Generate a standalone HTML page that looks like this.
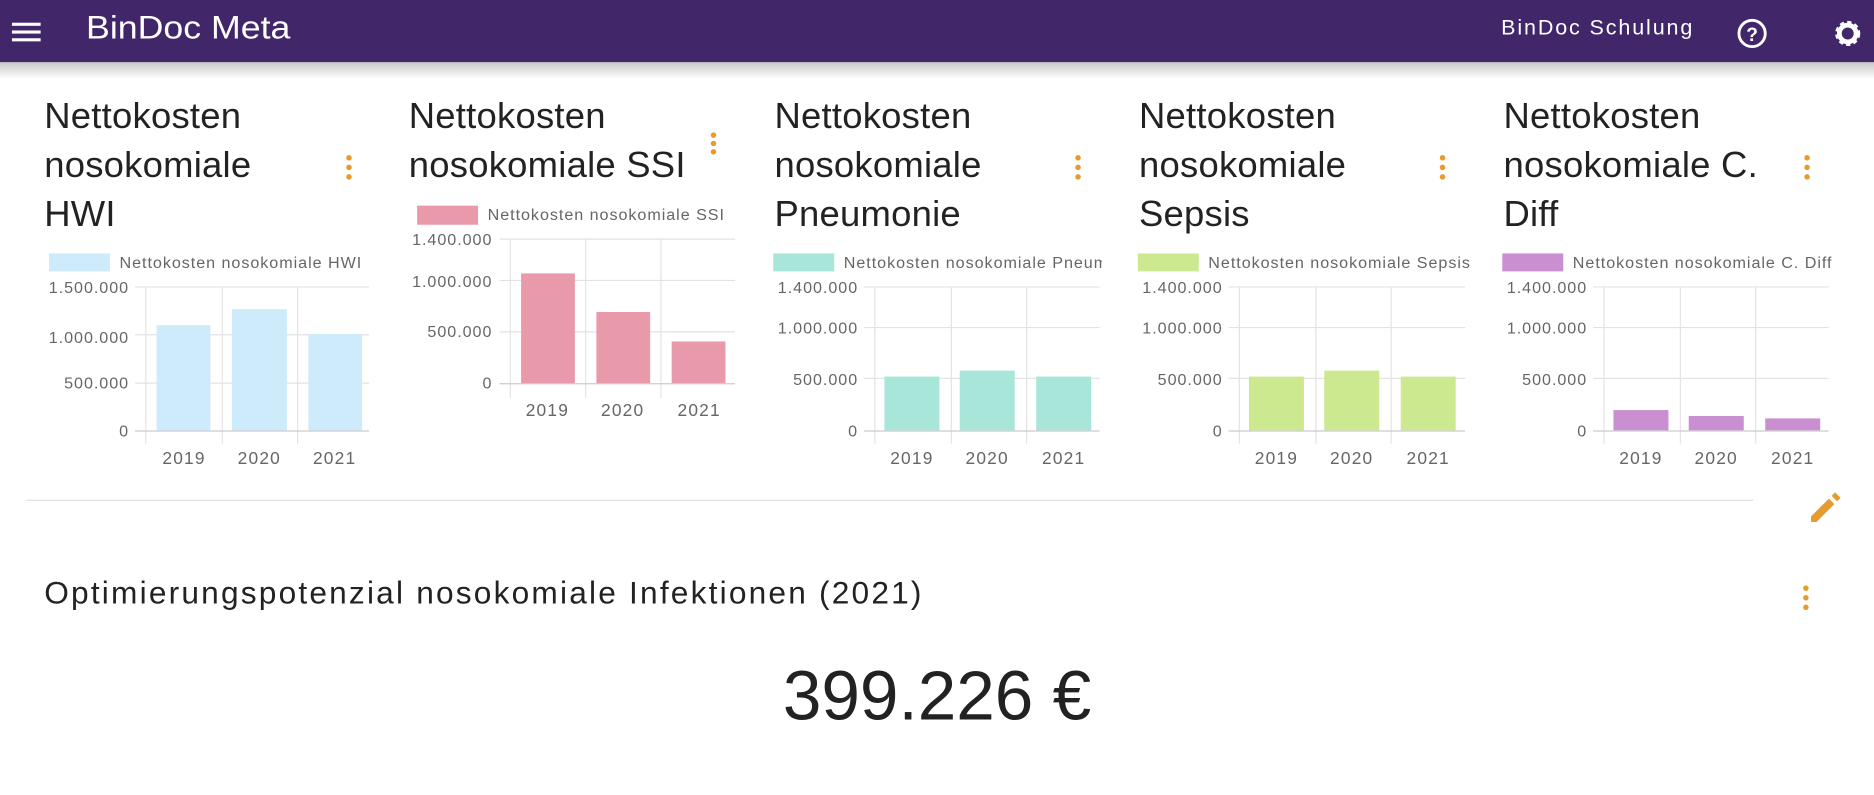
<!DOCTYPE html>
<html><head><style>
html,body{margin:0;padding:0;background:#fff;overflow:hidden}
svg{display:block}
text{font-family:"Liberation Sans",sans-serif}
</style></head><body>
<svg width="1874" height="795" viewBox="0 0 1568 665" preserveAspectRatio="none" xmlns="http://www.w3.org/2000/svg">
<defs>
<linearGradient id="sh" x1="0" y1="0" x2="0" y2="1"><stop offset="0" stop-color="#000" stop-opacity="0.22"/><stop offset="1" stop-color="#000" stop-opacity="0"/></linearGradient>
<clipPath id="c3"><rect x="640" y="200" width="282" height="40"/></clipPath>
</defs>
<rect width="1568" height="665" fill="#fff"/>
<rect y="52" width="1568" height="14" fill="url(#sh)"/>
<rect width="1568" height="52" fill="#42266a"/>
<g fill="#fff"><rect x="10" y="19" width="24" height="2.6"/><rect x="10" y="25.5" width="24" height="2.6"/><rect x="10" y="32" width="24" height="2.6"/></g>
<text x="72" y="32" font-size="27" fill="#fff" textLength="171" lengthAdjust="spacingAndGlyphs">BinDoc Meta</text>
<text x="1256" y="29" font-size="18" fill="#fff" textLength="160">BinDoc Schulung</text>
<circle cx="1466" cy="28" r="11" fill="none" stroke="#fff" stroke-width="2.4"/>
<text x="1466" y="34.5" font-size="16" font-weight="bold" fill="#fff" text-anchor="middle">?</text>
<circle cx="1546" cy="28" r="8" fill="none" stroke="#fff" stroke-width="5" stroke-dasharray="3 2.3"/>
<circle cx="1546" cy="28" r="7" fill="none" stroke="#fff" stroke-width="4"/>

<g font-size="30.5" fill="#222" letter-spacing="0.2">
<text x="37" y="107">Nettokosten</text><text x="37" y="148">nosokomiale</text><text x="37" y="189">HWI</text>
<text x="342" y="107">Nettokosten</text><text x="342" y="148">nosokomiale SSI</text>
<text x="648" y="107">Nettokosten</text><text x="648" y="148">nosokomiale</text><text x="648" y="189">Pneumonie</text>
<text x="953" y="107">Nettokosten</text><text x="953" y="148">nosokomiale</text><text x="953" y="189">Sepsis</text>
<text x="1258" y="107">Nettokosten</text><text x="1258" y="148">nosokomiale C.</text><text x="1258" y="189">Diff</text>
</g>
<g fill="#e69b2c">
<circle cx="292" cy="132" r="2.3"/><circle cx="292" cy="140" r="2.3"/><circle cx="292" cy="148" r="2.3"/>
<circle cx="597" cy="113" r="2.3"/><circle cx="597" cy="120" r="2.3"/><circle cx="597" cy="127" r="2.3"/>
<circle cx="902" cy="132" r="2.3"/><circle cx="902" cy="140" r="2.3"/><circle cx="902" cy="148" r="2.3"/>
<circle cx="1207" cy="132" r="2.3"/><circle cx="1207" cy="140" r="2.3"/><circle cx="1207" cy="148" r="2.3"/>
<circle cx="1512" cy="132" r="2.3"/><circle cx="1512" cy="140" r="2.3"/><circle cx="1512" cy="148" r="2.3"/>
<circle cx="1511" cy="492" r="2.3"/><circle cx="1511" cy="500" r="2.3"/><circle cx="1511" cy="508" r="2.3"/>
</g>

<g font-size="13.5" fill="#666" letter-spacing="0.8">
<!-- Chart 1 HWI -->
<rect x="41" y="212" width="51" height="15" fill="#cdebfb"/>
<text x="100" y="224">Nettokosten nosokomiale HWI</text>
<g stroke="#e3e3e3" stroke-width="1">
<line x1="113" y1="240" x2="309" y2="240"/><line x1="113" y1="280" x2="309" y2="280"/><line x1="113" y1="320.5" x2="309" y2="320.5"/>
<line x1="122" y1="240" x2="122" y2="371"/><line x1="186" y1="240" x2="186" y2="371"/><line x1="249" y1="240" x2="249" y2="371"/>
</g>
<rect x="131" y="272" width="45" height="88" fill="#cdebfb"/>
<rect x="194" y="258.6" width="46" height="101.4" fill="#cdebfb"/>
<rect x="258" y="279.5" width="45" height="80.5" fill="#cdebfb"/>
<line x1="113" y1="360.5" x2="309" y2="360.5" stroke="#ccc"/>
<g text-anchor="end"><text x="108" y="245">1.500.000</text><text x="108" y="287">1.000.000</text><text x="108" y="325">500.000</text><text x="108" y="365">0</text></g>

<!-- Chart 2 SSI -->
<rect x="349" y="172" width="51" height="16" fill="#e899aa"/>
<text x="408" y="184">Nettokosten nosokomiale SSI</text>
<g stroke="#e3e3e3">
<line x1="418" y1="200" x2="615" y2="200"/><line x1="418" y1="234.6" x2="615" y2="234.6"/><line x1="418" y1="277.6" x2="615" y2="277.6"/>
<line x1="427" y1="200" x2="427" y2="333"/><line x1="490" y1="200" x2="490" y2="333"/><line x1="553" y1="200" x2="553" y2="333"/>
</g>
<rect x="436" y="228.7" width="45" height="92" fill="#e899aa"/>
<rect x="499" y="261" width="45" height="59.7" fill="#e899aa"/>
<rect x="562" y="285.6" width="45" height="35" fill="#e899aa"/>
<line x1="418" y1="321" x2="615" y2="321" stroke="#ccc"/>
<g text-anchor="end"><text x="412" y="205">1.400.000</text><text x="412" y="240">1.000.000</text><text x="412" y="282">500.000</text><text x="412" y="325">0</text></g>

<!-- Charts 3-5 -->
<rect x="647" y="212" width="51" height="15" fill="#a8e6d9"/>
<g clip-path="url(#c3)"><text x="706" y="224">Nettokosten nosokomiale Pneumonie</text></g>
<rect x="952" y="212" width="51" height="15" fill="#cde98f"/>
<text x="1011" y="224">Nettokosten nosokomiale Sepsis</text>
<rect x="1257" y="212" width="51" height="15" fill="#c98fd0"/>
<text x="1316" y="224">Nettokosten nosokomiale C. Diff</text>
<g stroke="#e3e3e3">
<line x1="723" y1="240" x2="920" y2="240"/><line x1="723" y1="274" x2="920" y2="274"/><line x1="723" y1="316.5" x2="920" y2="316.5"/>
<line x1="732" y1="240" x2="732" y2="371"/><line x1="796" y1="240" x2="796" y2="371"/><line x1="859" y1="240" x2="859" y2="371"/>
<line x1="1028" y1="240" x2="1226" y2="240"/><line x1="1028" y1="274" x2="1226" y2="274"/><line x1="1028" y1="316.5" x2="1226" y2="316.5"/>
<line x1="1037" y1="240" x2="1037" y2="371"/><line x1="1101" y1="240" x2="1101" y2="371"/><line x1="1164" y1="240" x2="1164" y2="371"/>
<line x1="1333" y1="240" x2="1530" y2="240"/><line x1="1333" y1="274" x2="1530" y2="274"/><line x1="1333" y1="316.5" x2="1530" y2="316.5"/>
<line x1="1342" y1="240" x2="1342" y2="371"/><line x1="1406" y1="240" x2="1406" y2="371"/><line x1="1469" y1="240" x2="1469" y2="371"/>
</g>
<g fill="#a8e6d9"><rect x="740" y="315" width="46" height="45"/><rect x="803" y="310" width="46" height="50"/><rect x="867" y="315" width="46" height="45"/></g>
<g fill="#cde98f"><rect x="1045" y="315" width="46" height="45"/><rect x="1108" y="310" width="46" height="50"/><rect x="1172" y="315" width="46" height="45"/></g>
<g fill="#c98fd0"><rect x="1350" y="343" width="46" height="17"/><rect x="1413" y="348" width="46" height="12"/><rect x="1477" y="350" width="46" height="10"/></g>
<g stroke="#ccc"><line x1="723" y1="360.5" x2="920" y2="360.5"/><line x1="1028" y1="360.5" x2="1226" y2="360.5"/><line x1="1333" y1="360.5" x2="1530" y2="360.5"/></g>
<g text-anchor="end">
<text x="718" y="245">1.400.000</text><text x="718" y="279">1.000.000</text><text x="718" y="322">500.000</text><text x="718" y="365">0</text>
<text x="1023" y="245">1.400.000</text><text x="1023" y="279">1.000.000</text><text x="1023" y="322">500.000</text><text x="1023" y="365">0</text>
<text x="1328" y="245">1.400.000</text><text x="1328" y="279">1.000.000</text><text x="1328" y="322">500.000</text><text x="1328" y="365">0</text>
</g>
</g>
<g font-size="14.5" fill="#666" letter-spacing="1" text-anchor="middle">
<text x="154" y="388">2019</text><text x="217" y="388">2020</text><text x="280" y="388">2021</text>
<text x="458" y="348">2019</text><text x="521" y="348">2020</text><text x="585" y="348">2021</text>
<text x="763" y="388">2019</text><text x="826" y="388">2020</text><text x="890" y="388">2021</text>
<text x="1068" y="388">2019</text><text x="1131" y="388">2020</text><text x="1195" y="388">2021</text>
<text x="1373" y="388">2019</text><text x="1436" y="388">2020</text><text x="1500" y="388">2021</text>
</g>

<line x1="22" y1="418.5" x2="1467" y2="418.5" stroke="#ddd"/>
<g transform="translate(1513,409) scale(1.15)"><path d="M2 20 L2 24 L6 24 L19 11 L15 7 Z M17 5 L19.5 2.5 L23.5 6.5 L21 9 Z" fill="#e69b2c"/></g>
<text x="37" y="505" font-size="26.5" fill="#222" textLength="734">Optimierungspotenzial nosokomiale Infektionen (2021)</text>
<text x="784" y="602" font-size="58" fill="#222" text-anchor="middle">399.226 €</text>
</svg>
</body></html>
